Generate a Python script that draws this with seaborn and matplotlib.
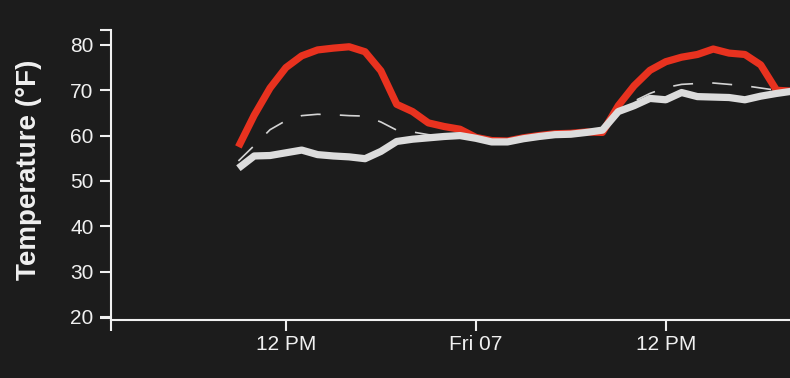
import matplotlib
matplotlib.use("Agg")
import matplotlib.pyplot as plt
import matplotlib.dates as mdates
import pandas as pd
import seaborn as sns

# ---- data (hourly, Thu 06 09:00 -> Fri 07 20:00) ----
start_time = "2024-06-06 09:00"
end_time = "2024-06-07 20:00"
temp_red = [57.5, 64.5, 70.5, 75.0, 77.6, 78.9, 79.3, 79.6, 78.5, 74.3, 66.9, 65.3, 62.8, 62.0, 61.4,
            59.6, 58.9, 58.8, 59.5, 60.0, 60.4, 60.5, 60.8, 60.7, 66.6, 71.0, 74.4, 76.3, 77.3, 77.9,
            79.1, 78.2, 77.9, 75.6, 70.0, 69.8]
temp_white = [52.8, 55.5, 55.6, 56.2, 56.8, 55.8, 55.5, 55.3, 54.9, 56.5, 58.7, 59.2, 59.5, 59.8, 60.0,
              59.4, 58.6, 58.6, 59.3, 59.8, 60.2, 60.3, 60.7, 61.2, 65.3, 66.6, 68.2, 67.9, 69.5, 68.6,
              68.5, 68.4, 67.9, 68.7, 69.3, 69.8]
temp_dashed = [54.4, 57.8, 61.3, 63.3, 64.4, 64.7, 64.6, 64.4, 64.3, 63.0, 61.2, 60.8, 60.2, 59.9, 59.9,
               59.5, 58.8, 58.7, 59.3, 59.8, 60.2, 60.4, 60.7, 61.2, 65.0, 67.6, 69.3, 70.6, 71.3, 71.5,
               71.6, 71.3, 71.0, 70.5, 70.0, 69.8]
tick_times = ["2024-06-06 12:00", "2024-06-07 00:00", "2024-06-07 12:00"]
tick_labels = ["12 PM", "Fri 07", "12 PM"]
y_ticks = [20, 30, 40, 50, 60, 70, 80]
y_label = "Temperature (°F)"

BG = "#1c1c1c"
FG = "#f0f0f0"

sns.set_theme(style="dark", rc={
    "figure.facecolor": BG, "axes.facecolor": BG,
    "axes.edgecolor": FG, "text.color": FG,
    "xtick.color": FG, "ytick.color": FG, "axes.labelcolor": FG,
})
plt.rcParams["font.family"] = ["Liberation Sans", "DejaVu Sans"]

times = pd.date_range(start_time, end_time, freq="h")
df = pd.DataFrame({"time": times, "red": temp_red, "white": temp_white, "dashed": temp_dashed})

W, H = 790, 378
fig = plt.figure(figsize=(W / 100, H / 100), dpi=100)
ax = fig.add_axes([111 / W, 58 / H, (W - 111) / W, 290 / H])

sns.lineplot(data=df, x="time", y="dashed", ax=ax, color="#d4d4d4", lw=1.2)
ax.lines[-1].set_dashes([12, 11.5])
sns.lineplot(data=df, x="time", y="red", ax=ax, color="#e8321f", lw=5.2)
ax.lines[-1].set_solid_capstyle("butt")
sns.lineplot(data=df, x="time", y="white", ax=ax, color="#dcdcdc", lw=5.2)
ax.lines[-1].set_solid_capstyle("butt")

xmin = pd.Timestamp("2024-06-06 00:57")
xmax = pd.Timestamp("2024-06-07 19:51")
ax.set_xlim(xmin, xmax)
ax.set_ylim(19.3, 83.3)

ax.set_xticks(mdates.date2num(pd.to_datetime(tick_times)))
ax.set_xticklabels(tick_labels)
ax.set_xticks([mdates.date2num(xmin)], minor=True)
ax.set_yticks(y_ticks)
ax.set_yticklabels([str(v) for v in y_ticks])
ax.set_yticks([19.67, 83.3], minor=True)

ax.tick_params(axis="both", which="both", length=8, width=1.5, color=FG,
               labelsize=15, bottom=True, left=True)
ax.tick_params(axis="x", pad=3)
ax.tick_params(axis="y", pad=4.5)

for s in ["top", "right"]:
    ax.spines[s].set_visible(False)
for s in ["left", "bottom"]:
    ax.spines[s].set_color(FG)
    ax.spines[s].set_linewidth(1.5)

ax.set_xlabel("")
ax.set_ylabel(y_label, fontsize=20, fontweight="bold")
ax.yaxis.set_label_coords(-0.101, 0.517)
ax.grid(False)

fig.savefig("out.png", dpi=100, facecolor=BG)
